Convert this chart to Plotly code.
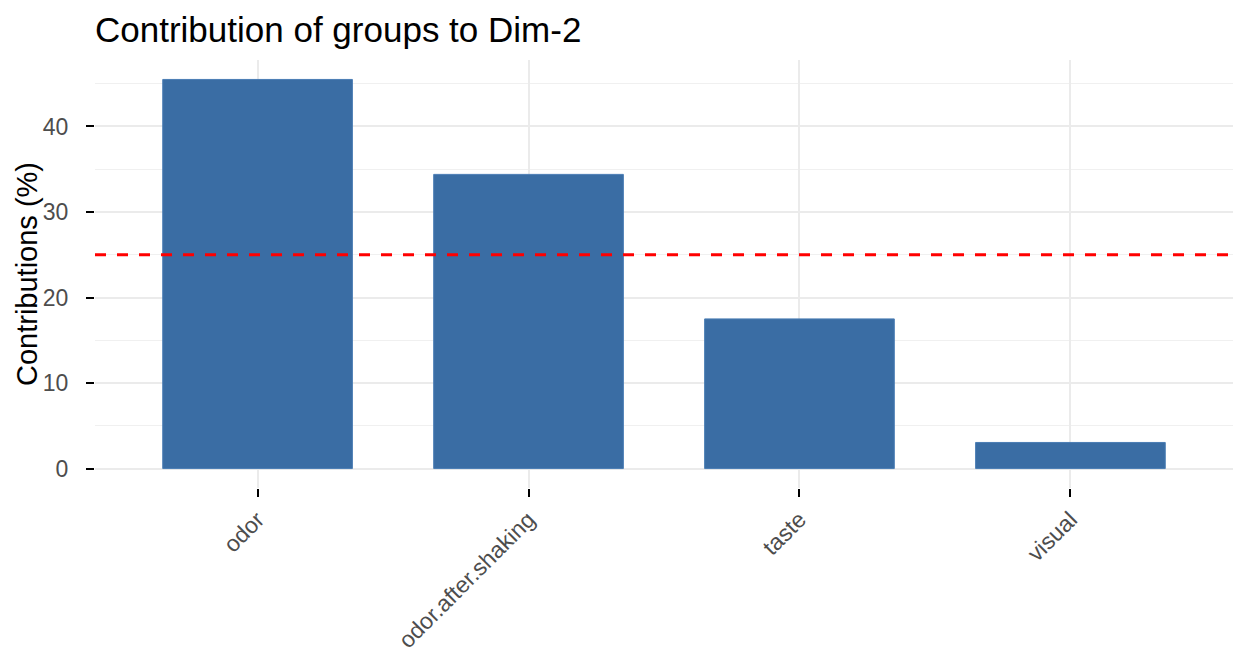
import plotly.graph_objects as go

categories = ["odor", "odor.after.shaking", "taste", "visual"]
contributions = [45.5, 34.4, 17.5, 3.05]
expected = 25.0
y_ticks = [0, 10, 20, 30, 40]

pad = (max(contributions) - 0) * 0.05
y_range = [0 - pad, max(contributions) + pad]

fig = go.Figure()
fig.add_trace(go.Bar(
    x=categories, y=contributions, width=0.7,
    marker=dict(color="#3A6DA4", line=dict(color="#4A7DB4", width=1)),
    showlegend=False,
))
fig.add_hline(y=expected, line=dict(color="#FF0000", width=2.8, dash="11px,11px"))

font = "Liberation Sans, Arial, Helvetica, sans-serif"
fig.update_layout(
    width=1248, height=672,
    margin=dict(l=95, r=15, t=60, b=184),
    plot_bgcolor="white", paper_bgcolor="white",
    font=dict(family=font),
    title=dict(text="Contribution of groups to Dim-2", x=0, xref="paper", xanchor="left",
               y=1 - 30 / 672, yref="container", yanchor="middle",
               font=dict(size=35, color="black", family=font)),
    bargap=0.3,
)
fig.update_xaxes(
    type="category", range=[-0.6, len(categories) - 0.4],
    showgrid=True, gridcolor="#EBEBEB", gridwidth=2,
    showline=False, zeroline=False,
    ticks="outside", ticklen=8, tickwidth=2, tickcolor="black",
    tickangle=-45, tickfont=dict(size=23, color="#4D4D4D", family=font),
    ticklabelstandoff=0,
)
fig.update_yaxes(
    range=y_range, tickvals=y_ticks,
    showgrid=True, gridcolor="#EBEBEB", gridwidth=2,
    minor=dict(dtick=5, tick0=5, showgrid=True, gridcolor="#F0F0F0", gridwidth=1, ticks=""),
    showline=False, zeroline=False,
    ticks="outside", ticklen=8, tickwidth=2, tickcolor="black",
    tickfont=dict(size=23, color="#4D4D4D", family=font),
    ticklabelstandoff=13,
)
fig.add_annotation(
    text="Contributions (%)", textangle=-90,
    x=-68 / 1138, xref="paper", xanchor="center",
    y=0.5, yref="paper", yanchor="middle",
    showarrow=False, font=dict(size=29, color="black", family=font),
)
fig.write_html("out.html")
